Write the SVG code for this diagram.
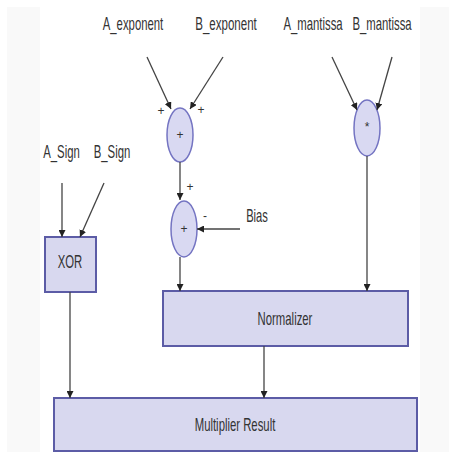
<svg xmlns="http://www.w3.org/2000/svg" width="449" height="452" viewBox="0 0 449 452">
  <defs>
    <marker id="arrow" viewBox="0 0 10 10" refX="10" refY="5" markerWidth="7" markerHeight="7" markerUnits="userSpaceOnUse" orient="auto">
      <path d="M0,0 L10,5 L0,10 z" fill="#222"/>
    </marker>
    <style>
      .lbl { font-family: "Liberation Sans", Arial, sans-serif; font-size: 18px; fill: #333; text-anchor: middle; }
      .sign { font-family: "Liberation Sans", Arial, sans-serif; font-size: 12px; fill: #333; text-anchor: middle; }
      .box { fill: #d8d8ef; stroke: #5c5ca6; stroke-width: 2; }
      .op { fill: #d9d9f2; stroke: #7474c2; stroke-width: 1.5; }
      .wire { stroke: #444; stroke-width: 1.3; fill: none; marker-end: url(#arrow); }
    </style>
  </defs>

  <!-- page background with faint side margins -->
  <rect x="0" y="0" width="449" height="452" fill="#ffffff"/>
  <rect x="7" y="7" width="33" height="445" fill="#f9f9f9"/>
  <rect x="420" y="7" width="29" height="445" fill="#f9f9f9"/>

  <!-- input labels (narrow type) -->
  <g id="inputs">
    <text class="lbl" transform="translate(133,30) scale(0.63,1)">A_exponent</text>
    <text class="lbl" transform="translate(226,30) scale(0.64,1)">B_exponent</text>
    <text class="lbl" transform="translate(313,30) scale(0.63,1)">A_mantissa</text>
    <text class="lbl" transform="translate(382,30) scale(0.63,1)">B_mantissa</text>
    <text class="lbl" transform="translate(61.5,158) scale(0.63,1)">A_Sign</text>
    <text class="lbl" transform="translate(112,158) scale(0.63,1)">B_Sign</text>
    <text class="lbl" transform="translate(257,222) scale(0.62,1)">Bias</text>
  </g>

  <!-- exponent adder -->
  <g id="exp-add">
    <ellipse class="op" cx="180" cy="135" rx="13" ry="27"/>
    <text class="sign" x="180" y="139">+</text>
  </g>

  <!-- bias subtractor -->
  <g id="bias-sub">
    <ellipse class="op" cx="184" cy="229" rx="13" ry="28"/>
    <text class="sign" x="184" y="233">+</text>
  </g>

  <!-- mantissa multiplier -->
  <g id="mant-mul">
    <ellipse class="op" cx="367" cy="128" rx="13" ry="28"/>
    <text class="sign" x="367" y="131">*</text>
  </g>

  <!-- sign XOR -->
  <g id="xor">
    <rect class="box" x="45" y="237" width="51" height="55"/>
    <text class="lbl" transform="translate(70,268) scale(0.63,1)">XOR</text>
  </g>

  <!-- normalizer -->
  <g id="normalizer">
    <rect class="box" x="163" y="291" width="245" height="55"/>
    <text class="lbl" transform="translate(285,325) scale(0.63,1)">Normalizer</text>
  </g>

  <!-- result -->
  <g id="result">
    <rect class="box" x="54" y="398" width="363" height="53"/>
    <text class="lbl" transform="translate(235,431) scale(0.63,1)">Multiplier Result</text>
  </g>

  <!-- connectors -->
  <g id="connectors">
    <line class="wire" x1="147" y1="57" x2="171" y2="109"/>
    <line class="wire" x1="223" y1="57" x2="190" y2="109"/>
    <line class="wire" x1="180" y1="162" x2="180" y2="200"/>
    <line class="wire" x1="240" y1="229" x2="197" y2="229"/>
    <line class="wire" x1="180" y1="257" x2="180" y2="291"/>
    <line class="wire" x1="332" y1="57" x2="357" y2="110"/>
    <line class="wire" x1="392" y1="57" x2="377" y2="110"/>
    <line class="wire" x1="367" y1="156" x2="367" y2="291"/>
    <line class="wire" x1="62" y1="183" x2="62" y2="237"/>
    <line class="wire" x1="104" y1="183" x2="80" y2="237"/>
    <line class="wire" x1="70" y1="292" x2="70" y2="398"/>
    <line class="wire" x1="264" y1="346" x2="264" y2="398"/>
  </g>

  <!-- operand signs -->
  <g id="signs">
    <text class="sign" x="161" y="115">+</text>
    <text class="sign" x="201" y="114">+</text>
    <text class="sign" x="190" y="191">+</text>
    <text class="sign" x="205" y="220">-</text>
  </g>
</svg>
